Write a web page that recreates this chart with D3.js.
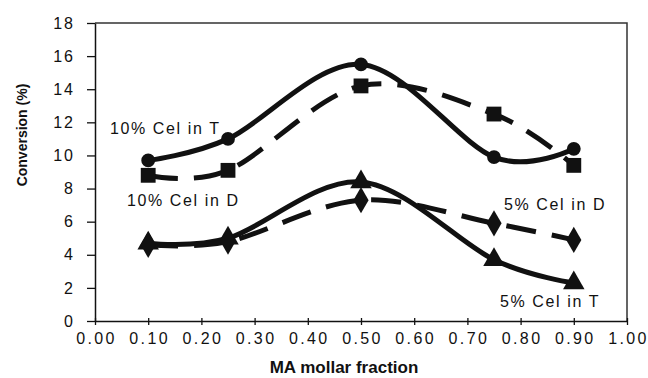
<!DOCTYPE html>
<html>
<head>
<meta charset="utf-8">
<script src="https://cdn.jsdelivr.net/npm/d3@7"></script>
<style>
  body { margin: 0; background: #fff; }
  text { font-family: "Liberation Sans", Arial, sans-serif; fill: #111; }
</style>
</head>
<body>
<svg id="chart"></svg>
<script>
// MA mollar fraction values used in every series
let fractions = [0.10, 0.25, 0.50, 0.75, 0.90]
let celT10 = [9.7, 11.0, 15.5, 9.9, 10.4]
let celD10 = [8.8, 9.1, 14.2, 12.5, 9.4]
let celT5 = [4.7, 5.0, 8.4, 3.7, 2.3]
let celD5 = [4.6, 4.8, 7.3, 5.9, 4.9]
let xTicks = [0, 0.1, 0.2, 0.3, 0.4, 0.5, 0.6, 0.7, 0.8, 0.9, 1.0]
let yTicks = [0, 2, 4, 6, 8, 10, 12, 14, 16, 18]

let width = 648
let height = 378
let svg = d3.select('#chart')
  .attr('width', width)
  .attr('height', height)

let x = d3.scaleLinear().domain([0, 1]).range([95, 627])
let y = d3.scaleLinear().domain([0, 18]).range([321, 23])

// frame (top and right sides)
svg.append('path')
  .attr('d', `M${x(0)},${y(18)}H${x(1)}V${y(0)}`)
  .attr('fill', 'none')
  .attr('stroke', '#333')
  .attr('stroke-width', 1.5)

let xAxis = svg.append('g')
  .attr('transform', `translate(0,${y(0)})`)
  .call(d3.axisBottom(x).tickValues(xTicks).tickFormat(d3.format('.2f')).tickSize(4).tickSizeOuter(0))
xAxis.select('.domain').attr('stroke', '#111').attr('stroke-width', 1.5)
xAxis.selectAll('.tick line').attr('y1', -3).attr('stroke', '#111').attr('stroke-width', 1.3)
xAxis.selectAll('.tick text')
  .attr('y', 12)
  .attr('dy', '0.71em')
  .attr('dx', '1px')
  .style('font-size', '16px')
  .style('letter-spacing', '2.4px')
  .attr('fill', '#111')

let yAxis = svg.append('g')
  .attr('transform', `translate(${x(0)},0)`)
  .call(d3.axisLeft(y).tickValues(yTicks).tickSize(8).tickSizeOuter(0))
yAxis.select('.domain').attr('stroke', '#111').attr('stroke-width', 1.5)
yAxis.selectAll('.tick line').attr('stroke', '#111').attr('stroke-width', 1.3)
yAxis.selectAll('.tick text')
  .attr('x', -20)
  .style('font-size', '16px')
  .style('letter-spacing', '2px')
  .attr('fill', '#111')

svg.append('text')
  .attr('x', 344)
  .attr('y', 373)
  .attr('text-anchor', 'middle')
  .style('font-size', '17px')
  .style('font-weight', 'bold')
  .text('MA mollar fraction')

svg.append('text')
  .attr('transform', 'translate(27,135) rotate(-90)')
  .attr('text-anchor', 'middle')
  .style('font-size', '14px')
  .style('font-weight', 'bold')
  .text('Conversion (%)')

let line = d3.line()
  .x((d, i) => x(fractions[i]))
  .y((d) => y(d))
  .curve(d3.curveCatmullRom.alpha(0))

let series = [
  { values: celT10, dash: null, shape: d3.symbolCircle, size: 150 },
  { values: celD10, dash: '30,16', shape: d3.symbolSquare, size: 220 },
  { values: celT5, dash: null, shape: d3.symbolTriangle, size: 200 },
  { values: celD5, dash: '30,16', shape: d3.symbolDiamond, size: 200 }
]

series.forEach((s) => {
  svg.append('path')
    .attr('d', line(s.values))
    .attr('fill', 'none')
    .attr('stroke', '#111')
    .attr('stroke-width', 5)
    .attr('stroke-dasharray', s.dash)
  svg.selectAll(null)
    .data(s.values)
    .enter()
    .append('path')
    .attr('d', d3.symbol().type(s.shape).size(s.size))
    .attr('transform', (d, i) => `translate(${x(fractions[i])},${y(d)})`)
    .attr('fill', '#111')
})

let labels = [
  { text: '10% Cel in T', x: 110, y: 134 },
  { text: '10% Cel in D', x: 127, y: 206 },
  { text: '5% Cel in D', x: 504, y: 210 },
  { text: '5% Cel in T', x: 500, y: 307 }
]
svg.selectAll('.lbl')
  .data(labels)
  .enter()
  .append('text')
  .attr('class', 'lbl')
  .attr('x', (d) => d.x)
  .attr('y', (d) => d.y)
  .style('font-size', '16px')
  .style('letter-spacing', '1.6px')
  .text((d) => d.text)
</script>
</body>
</html>
